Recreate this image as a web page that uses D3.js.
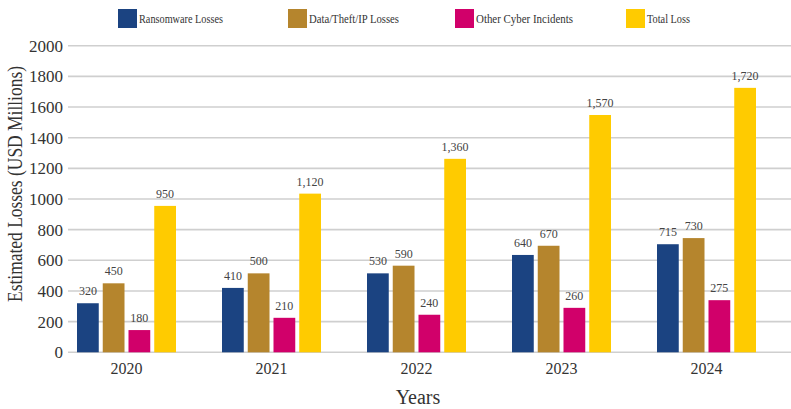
<!DOCTYPE html>
<html lang="en">
    <head>
        <meta charset="utf-8">
        <title>Cyber Losses</title>
        <script type="text/javascript" src="https://d3js.org/d3.v7.min.js"></script>
        <style>
          body { margin: 0; background: #fff; }
          text { font-family: "Liberation Serif", "DejaVu Serif", serif; }
        </style>
    </head>
    <body>
        <script type="text/javascript">
            const years = ["2020", "2021", "2022", "2023", "2024"]
            const series = ["Ransomware Losses", "Data/Theft/IP Losses", "Other Cyber Incidents", "Total Loss"]
            const colors = ["#1b4381", "#b5852d", "#d1006a", "#ffcb00"]
            // bar heights as drawn
            const ransomware = [320, 420, 515, 635, 705]
            const dataTheft = [450, 515, 565, 695, 745]
            const other = [145, 225, 245, 290, 340]
            const total = [955, 1035, 1262, 1548, 1725]
            // printed labels
            const ransomwareLabels = ["320", "410", "530", "640", "715"]
            const dataTheftLabels = ["450", "500", "590", "670", "730"]
            const otherLabels = ["180", "210", "240", "260", "275"]
            const totalLabels = ["950", "1,120", "1,360", "1,570", "1,720"]
            const yTicks = [0, 200, 400, 600, 800, 1000, 1200, 1400, 1600, 1800, 2000]

            const values = [ransomware, dataTheft, other, total]
            const labels = [ransomwareLabels, dataTheftLabels, otherLabels, totalLabels]

            const w = 791, h = 409
            const svg = d3.select("body").append("svg").attr("width", w).attr("height", h)

            const y = d3.scaleLinear().domain([0, 2000]).range([352.3, 45.7])
            const x0 = d3.scaleBand().domain(years).range([54, 779])
            const groupW = 99
            const x1 = d3.scaleBand().domain(series).range([0, groupW]).paddingInner(0.155)

            // gridlines
            svg.append("g").selectAll("line").data(yTicks).enter().append("line")
               .attr("x1", 68).attr("x2", w)
               .attr("y1", d => y(d)).attr("y2", d => y(d))
               .attr("stroke", "#cfcfcf").attr("stroke-width", 1.6)

            // y tick labels
            svg.append("g").selectAll("text").data(yTicks).enter().append("text")
               .attr("x", 63).attr("y", d => y(d)).attr("dy", "0.35em")
               .attr("text-anchor", "end").attr("font-size", 17).attr("fill", "#333")
               .text(d => d)

            // bars
            const rows = []
            series.forEach((s, si) => {
                years.forEach((yr, i) => {
                    rows.push({ s: s, si: si, year: yr, v: values[si][i], label: labels[si][i] })
                })
            })
            const gx = (d) => x0(d.year) + x0.bandwidth() / 2 - groupW / 2 + x1(d.s)

            svg.append("g").selectAll("rect").data(rows).enter().append("rect")
               .attr("x", gx)
               .attr("y", d => y(d.v))
               .attr("width", x1.bandwidth())
               .attr("height", d => y(0) - y(d.v))
               .attr("fill", d => colors[d.si])

            svg.append("g").selectAll("text").data(rows).enter().append("text")
               .attr("x", d => gx(d) + x1.bandwidth() / 2)
               .attr("y", d => y(d.v) - 8)
               .attr("text-anchor", "middle").attr("font-size", 12).attr("fill", "#444")
               .text(d => d.label)

            // x tick labels
            svg.append("g").selectAll("text").data(years).enter().append("text")
               .attr("x", d => x0(d) + x0.bandwidth() / 2).attr("y", 374)
               .attr("text-anchor", "middle").attr("font-size", 16).attr("fill", "#333")
               .text(d => d)

            // axis titles
            svg.append("text").attr("x", 418).attr("y", 404)
               .attr("text-anchor", "middle").attr("font-size", 20).attr("fill", "#333")
               .text("Years")
            svg.append("text")
               .attr("transform", "translate(22,184) rotate(-90)")
               .attr("text-anchor", "middle").attr("font-size", 20).attr("fill", "#333")
               .attr("textLength", 236).attr("lengthAdjust", "spacingAndGlyphs")
               .text("Estimated Losses (USD Millions)")

            // legend
            const legX = [118, 288, 455, 626]
            const legTextW = [84, 90, 97, 43]
            const leg = svg.append("g").selectAll("g").data(series).enter().append("g")
               .attr("transform", (d, i) => `translate(${legX[i]},9)`)
            leg.append("rect").attr("width", 19).attr("height", 19).attr("fill", (d, i) => colors[i])
            leg.append("text").attr("x", 21).attr("y", 14)
               .attr("font-size", 12).attr("fill", "#333")
               .attr("textLength", (d, i) => legTextW[i]).attr("lengthAdjust", "spacingAndGlyphs")
               .text(d => d)
        </script>
    </body>
</html>
